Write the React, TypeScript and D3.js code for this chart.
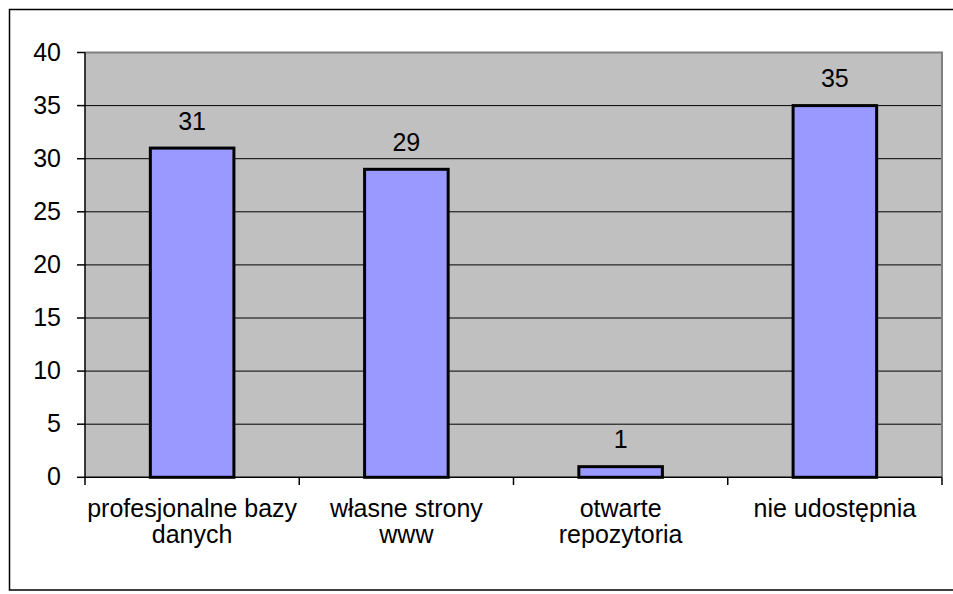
import React from "react";
import * as d3 from "d3";

const categories: string[][] = [
  ["profesjonalne bazy", "danych"],
  ["własne strony", "www"],
  ["otwarte", "repozytoria"],
  ["nie udostępnia"],
];
const values: number[] = [31, 29, 1, 35];
const yTicks: number[] = [0, 5, 10, 15, 20, 25, 30, 35, 40];

const W = 953;
const H = 594;
const plot = { left: 85, right: 942, top: 52.5, bottom: 477.3 };
const FS = 25;
const FONT = "'Liberation Sans', Arial, sans-serif";

export default function App() {
  const x = d3
    .scaleBand<number>()
    .domain(d3.range(categories.length))
    .range([plot.left, plot.right])
    .paddingInner(0)
    .paddingOuter(0);
  const y = d3.scaleLinear().domain([0, 40]).range([plot.bottom, plot.top]);
  const bw = x.bandwidth() * 0.39;
  const boundaries = d3.range(categories.length + 1).map((i) => plot.left + i * x.bandwidth());

  const txt = (tx: number, ty: number, s: string, anchor: string, key: string) => (
    <text
      key={key}
      x={tx}
      y={ty}
      textAnchor={anchor as any}
      fontFamily={FONT}
      fontSize={FS}
      fill="#000"
    >
      {s}
    </text>
  );

  return (
    <svg
      width={W}
      height={H}
      style={{ position: "fixed", left: 0, top: 0, background: "#fff" }}
    >
      <rect x={9.5} y={9.5} width={W + 20} height={580.5} fill="#fff" stroke="#000" strokeWidth={1.5} />
      <rect
        x={plot.left}
        y={plot.top}
        width={plot.right - plot.left}
        height={plot.bottom - plot.top}
        fill="#C0C0C0"
      />
      {yTicks.slice(1, -1).map((t) => (
        <line key={"g" + t} x1={plot.left} x2={plot.right} y1={y(t)} y2={y(t)} stroke="#000" strokeWidth={1} />
      ))}
      <path
        d={`M${plot.left},${plot.top}H${plot.right}V${plot.bottom}`}
        fill="none"
        stroke="#808080"
        strokeWidth={2}
      />
      {values.map((v, i) => {
        const cx = (x(i) as number) + x.bandwidth() / 2;
        return (
          <rect
            key={"b" + i}
            x={cx - bw / 2}
            y={y(v)}
            width={bw}
            height={y(0) - y(v)}
            fill="#9999FF"
            stroke="#000"
            strokeWidth={3}
          />
        );
      })}
      <line x1={plot.left} x2={plot.left} y1={plot.top} y2={plot.bottom} stroke="#000" strokeWidth={1.5} />
      <line x1={plot.left} x2={plot.right} y1={plot.bottom} y2={plot.bottom} stroke="#000" strokeWidth={1.5} />
      {yTicks.map((t) => (
        <line key={"yt" + t} x1={77} x2={plot.left} y1={y(t)} y2={y(t)} stroke="#000" strokeWidth={1.5} />
      ))}
      {boundaries.map((bx, i) => (
        <line key={"xt" + i} x1={bx} x2={bx} y1={plot.bottom} y2={485} stroke="#000" strokeWidth={1.5} />
      ))}
      {yTicks.map((t) => txt(61, y(t) + 8, String(t), "end", "yl" + t))}
      {values.map((v, i) => {
        const cx = (x(i) as number) + x.bandwidth() / 2;
        return txt(cx, y(v) - 18.5, String(v), "middle", "vl" + i);
      })}
      {categories.map((lines, i) => {
        const cx = (x(i) as number) + x.bandwidth() / 2;
        return lines.map((ln, j) => txt(cx, 516.5 + j * 26.5, ln, "middle", "cl" + i + "-" + j));
      })}
    </svg>
  );
}
